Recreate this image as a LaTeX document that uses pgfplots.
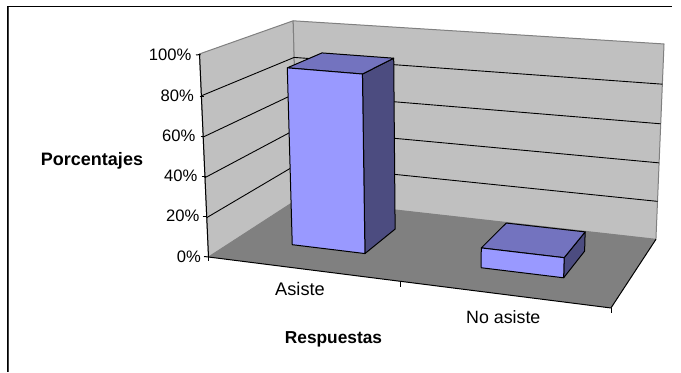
\documentclass[border=0pt]{standalone}
\usepackage{pgfplots}
\usepackage{fontspec}
\setmainfont{Liberation Sans}
\pgfplotsset{compat=1.18}
\definecolor{wall}{HTML}{C0C0C0}
\definecolor{floorgray}{HTML}{808080}
\definecolor{barfront}{HTML}{9999FF}
\definecolor{bartop}{HTML}{7373BF}
\definecolor{barside}{HTML}{4C4C80}
% Perspective projection of the chart box:
% u runs along the categories (0..1), d into the depth (0..1), v is the percentage.
\newcommand{\DEN}{(1-0.0772*\thisrow{u}+0.134*\thisrow{d}-0.000377*\thisrow{v})}
\newcommand{\PX}{((208.5+355.3*\thisrow{u}+129.4*\thisrow{d}-0.165*\thisrow{v})/\DEN)}
\newcommand{\PY}{((257+27.2*\thisrow{u}-31.3*\thisrow{d}-2.051*\thisrow{v}+0.022*\thisrow{v}*\thisrow{d}-0.052*\thisrow{v}*\thisrow{u}*\thisrow{d})/\DEN)}
\pgfplotsset{table/proj/.style={x expr={\PX},y expr={\PY}}}
\begin{document}
\begin{tikzpicture}
\begin{axis}[
  scale only axis, width=681pt, height=372pt,
  xmin=0, xmax=681, ymin=0, ymax=372, y dir=reverse,
  axis lines=none, clip=false, no markers,
  every axis plot/.append style={line join=round,forget plot},
]
% the page covers the whole plotting rectangle
\path (axis cs:0,0) rectangle (axis cs:681,372);
% outer frame of the chart area
\addplot[black,line width=1pt] coordinates {(7.5,372) (7.5,6) (672,6)};
\addplot[black!75,line width=1pt] coordinates {(8.3,372) (8.3,7)};

% side wall, back wall
\addplot[fill=wall,draw=floorgray,line width=1pt] table[proj] {
u d v
0 0 0
0 1 0
0 1 100
0 0 100
0 0 0
};
\addplot[fill=wall,draw=floorgray,line width=1pt] table[proj] {
u d v
0 1 0
1 1 0
1 1 100
0 1 100
0 1 0
};

% gridlines running along the side wall and the back wall
\addplot[black,line width=0.9pt] table[proj] {
u d v
0 0 20
0 1 20
1 1 20
};
\addplot[black,line width=0.9pt] table[proj] {
u d v
0 0 40
0 1 40
1 1 40
};
\addplot[black,line width=0.9pt] table[proj] {
u d v
0 0 60
0 1 60
1 1 60
};
\addplot[black,line width=0.9pt] table[proj] {
u d v
0 0 80
0 1 80
1 1 80
};

% floor
\addplot[fill=floorgray,draw=none] table[proj] {
u d v
0 0 0
1 0 0
1 1 0
0 1 0
0 0 0
};
\addplot[black,line width=1pt] table[proj] {
u d v
0 0 0
1 0 0
1 1 0
};
% value axis with its ticks
\addplot[black,line width=1pt] table[proj] {
u d v
0 0 0
0 0 100
};
\addplot[black,line width=1pt] coordinates {(204,256.5) (209,257)};
\addplot[black,line width=1pt] coordinates {(202.5,216) (207,216)};
\addplot[black,line width=1pt] coordinates {(201.5,176) (206,176)};
\addplot[black,line width=1pt] coordinates {(200.5,136) (205,136)};
\addplot[black,line width=1pt] coordinates {(199.5,96) (204,96)};
\addplot[black,line width=1pt] coordinates {(196,55) (200.5,54.5)};
% category axis ticks
\addplot[black,line width=1pt] coordinates {(208.5,257) (208.5,261)};
\addplot[black,line width=1pt] coordinates {(400,282) (400,286.5)};
\addplot[black,line width=1pt] coordinates {(611,308) (611,313)};

% bar "Asiste": 90
\addplot[fill=barside,draw=black,line width=1pt] table[proj] {
u d v
0.345 0.3 0
0.345 0.7 0
0.345 0.7 90
0.345 0.3 90
0.345 0.3 0
};
\addplot[fill=bartop,draw=black,line width=1pt] table[proj] {
u d v
0.15 0.3 90
0.345 0.3 90
0.345 0.7 90
0.15 0.7 90
0.15 0.3 90
};
\addplot[fill=barfront,draw=black,line width=1pt] table[proj] {
u d v
0.15 0.3 0
0.345 0.3 0
0.345 0.3 90
0.15 0.3 90
0.15 0.3 0
};

% bar "No asiste": 10
\addplot[fill=barside,draw=black,line width=1pt] table[proj] {
u d v
0.85 0.3 0
0.85 0.7 0
0.85 0.7 10
0.85 0.3 10
0.85 0.3 0
};
\addplot[fill=bartop,draw=black,line width=1pt] table[proj] {
u d v
0.645 0.3 10
0.85 0.3 10
0.85 0.7 10
0.645 0.7 10
0.645 0.3 10
};
\addplot[fill=barfront,draw=black,line width=1pt] table[proj] {
u d v
0.645 0.3 0
0.85 0.3 0
0.85 0.3 10
0.645 0.3 10
0.645 0.3 0
};

% labels
\node[anchor=east,inner sep=0pt] at (axis cs:191.5,54.5) {\fontsize{16.6}{18}\selectfont 100\%};
\node[anchor=east,inner sep=0pt] at (axis cs:194,95.5) {\fontsize{16.6}{18}\selectfont 80\%};
\node[anchor=east,inner sep=0pt] at (axis cs:195.5,136) {\fontsize{16.6}{18}\selectfont 60\%};
\node[anchor=east,inner sep=0pt] at (axis cs:197.5,176) {\fontsize{16.6}{18}\selectfont 40\%};
\node[anchor=east,inner sep=0pt] at (axis cs:199.5,216) {\fontsize{16.6}{18}\selectfont 20\%};
\node[anchor=east,inner sep=0pt] at (axis cs:201,257) {\fontsize{16.6}{18}\selectfont 0\%};
\node[inner sep=0pt] at (axis cs:300,289) {\fontsize{18.2}{18}\selectfont Asiste};
\node[inner sep=0pt] at (axis cs:503.3,317.5) {\fontsize{17.8}{18}\selectfont No asiste};
\node[inner sep=0pt] at (axis cs:333.5,339.5) {\fontsize{17.3}{18}\selectfont\bfseries Respuestas};
\node[inner sep=0pt] at (axis cs:92,161) {\fontsize{18}{18}\selectfont\bfseries Porcentajes};
\end{axis}
\end{tikzpicture}
\end{document}
